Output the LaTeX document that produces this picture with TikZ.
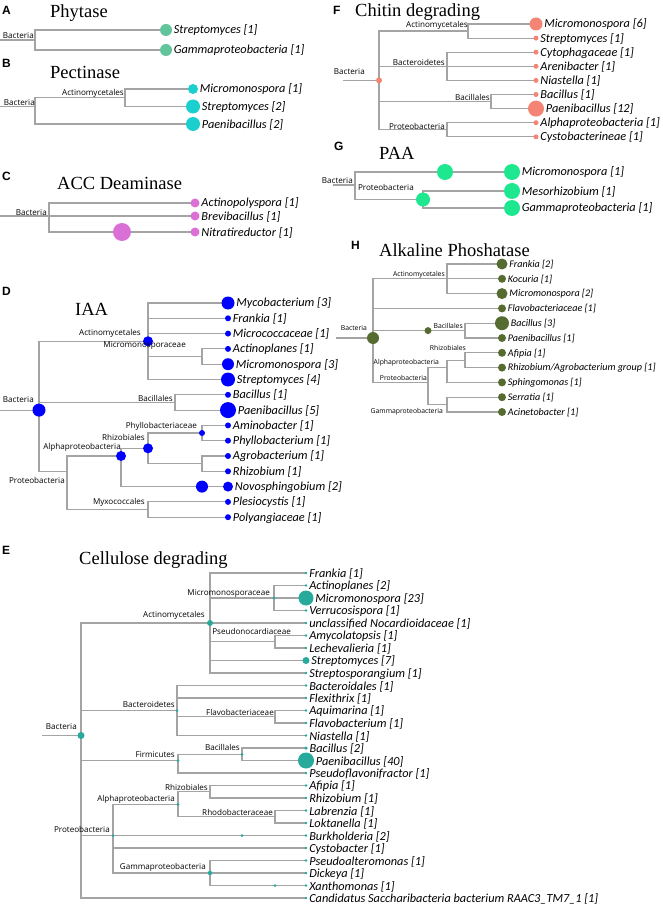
\documentclass[tikz,border=0pt]{standalone}
\usepackage{fontspec}
\setmainfont{Liberation Serif}
\newfontfamily\carl{Carlito}
\newfontfamily\osans{Open Sans}
\newfontfamily\arl{Liberation Sans}
\definecolor{brc}{HTML}{A4A4A4}
\definecolor{colA}{HTML}{62C49A}
\definecolor{colB}{HTML}{1CCFCF}
\definecolor{colC}{HTML}{DA70D6}
\definecolor{colD}{HTML}{0000FF}
\definecolor{colE}{HTML}{27A99B}
\definecolor{colF}{HTML}{F48474}
\definecolor{colG}{HTML}{1EE88F}
\definecolor{colH}{HTML}{556B2F}
\begin{document}
\begin{tikzpicture}[x=1pt,y=-1pt,
  br/.style={draw=brc, line width=1.1pt},
  lt/.style={anchor=west, inner sep=0pt, font=\carl\itshape\fontsize{12.3}{13}\selectfont},
  ltA/.style={lt},
  ltH/.style={lt, font=\carl\itshape\fontsize{10.1}{11}\selectfont},
  il/.style={anchor=east, inner sep=0pt, font=\osans\fontsize{8.1}{9}\selectfont},
  ilH/.style={anchor=east, inner sep=0pt, font=\osans\fontsize{6.8}{7}\selectfont},
  ttl/.style={anchor=west, inner sep=0pt, font=\fontsize{18.5}{20}\selectfont},
  pl/.style={anchor=west, inner sep=0pt, font=\arl\bfseries\fontsize{12}{13}\selectfont},
  dA/.style={circle, inner sep=0pt, minimum size=#1, fill=colA},
  dB/.style={circle, inner sep=0pt, minimum size=#1, fill=colB},
  dC/.style={circle, inner sep=0pt, minimum size=#1, fill=colC},
  dD/.style={circle, inner sep=0pt, minimum size=#1, fill=colD},
  dE/.style={circle, inner sep=0pt, minimum size=#1, fill=colE},
  dF/.style={circle, inner sep=0pt, minimum size=#1, fill=colF},
  dG/.style={circle, inner sep=0pt, minimum size=#1, fill=colG},
  dH/.style={circle, inner sep=0pt, minimum size=#1, fill=colH}]
\useasboundingbox (0,0) rectangle (662,909);

% ================= A Phytase
\node[pl] (pA) at (2,10) {A};
\node[ttl] (tA) at (50,13) {Phytase};
\coordinate (aR0) at (0,40); \coordinate (aR) at (35,40);
\coordinate (a1) at (166,30); \coordinate (a2) at (166,50);
\draw[br] (aR0) -- (aR) (aR) |- (a1) (aR) |- (a2);
\node[dA=12pt] (ac1) at (a1) {}; \node[dA=12pt] (ac2) at (a2) {};
\node[ltA] (at1) at ([xshift=1.5pt,yshift=-0.5pt]ac1.east) {Streptomyces [1]};
\node[ltA] (at2) at ([xshift=1.5pt,yshift=-0.5pt]ac2.east) {Gammaproteobacteria [1]};
\node[il] (la1) at (34,36) {Bacteria};

% ================= B Pectinase
\node[pl] (pB) at (2,63) {B};
\node[ttl] (tB) at (50,72) {Pectinase};
\coordinate (bR0) at (0,106.5); \coordinate (bR) at (35,106.5);
\coordinate (bAct) at (125,97.75);
\coordinate (b1) at (193,89); \coordinate (b2) at (193,106.5); \coordinate (b3) at (193,124);
\draw[br] (bR0) -- (bR) (bR) |- (bAct) (bAct) |- (b1) (bAct) |- (b2) (bR) |- (b3);
\node[dB=10pt] (bc1) at (b1) {}; \node[dB=14pt] (bc2) at (b2) {}; \node[dB=14pt] (bc3) at (b3) {};
\node[ltA] (bt1) at ([xshift=1.5pt,yshift=-0.5pt]bc1.east) {Micromonospora [1]};
\node[ltA] (bt2) at ([xshift=1.5pt,yshift=-0.5pt]bc2.east) {Streptomyces [2]};
\node[ltA] (bt3) at ([xshift=1.5pt,yshift=-0.5pt]bc3.east) {Paenibacillus [2]};
\node[il] (lb1) at (35,103) {Bacteria};
\node[il] (lb2) at (124,93) {Actinomycetales};

% ================= C ACC Deaminase
\node[pl] (pC) at (2,176) {C};
\node[ttl] (tC) at (57,183) {ACC Deaminase};
\coordinate (cR0) at (0,216); \coordinate (cR) at (49,216);
\coordinate (c1) at (195,203); \coordinate (c2) at (195,216); \coordinate (c3) at (195,232);
\coordinate (cM) at (122,232);
\draw[br] (cR0) -- (cR) (cR) |- (c1) (cR) -- (c2) (cR) |- (cM) (cM) -- (c3);
\node[dC=18pt] (ccM) at (cM) {};
\node[dC=9pt] (cc1) at (c1) {}; \node[dC=9pt] (cc2) at (c2) {}; \node[dC=9pt] (cc3) at (c3) {};
\node[ltA] (ct1) at ([xshift=1.5pt,yshift=-0.5pt]cc1.east) {Actinopolyspora [1]};
\node[ltA] (ct2) at ([xshift=1.5pt,yshift=-0.5pt]cc2.east) {Brevibacillus [1]};
\node[ltA] (ct3) at ([xshift=1.5pt,yshift=-0.5pt]cc3.east) {Nitratireductor [1]};
\node[il] (lc1) at (47,213) {Bacteria};

% ================= D IAA
\node[pl] (pD) at (2,291) {D};
\node[ttl] (tD) at (75,309) {IAA};
\def\Dl{1/303/13pt/Mycobacterium [3], 2/318.3/6pt/Frankia [1], 3/333.6/6pt/Micrococcaceae [1], 4/348.9/6pt/Actinoplanes [1], 5/364.2/12pt/Micromonospora [3], 6/379.5/14pt/Streptomyces [4], 7/394.8/6pt/Bacillus [1], 8/410.1/16pt/Paenibacillus [5], 9/425.4/6pt/Aminobacter [1], 10/440.7/6pt/Phyllobacterium [1], 11/456/6pt/Agrobacterium [1], 12/471.3/6pt/Rhizobium [1], 13/486.6/10pt/Novosphingobium [2], 14/501.9/6pt/Plesiocystis [1], 15/517.2/6pt/Polyangiaceae [1]}
\foreach \i/\y/\s/\t in \Dl { \coordinate (d\i) at (228,\y); }
\coordinate (dR0) at (0,410.1); \coordinate (dR) at (39,410.1);
\coordinate (dAct) at (148,341.25); \coordinate (dMic) at (202,356.5);
\coordinate (dBacl) at (175,402.5); \coordinate (dPro) at (67,471.3);
\coordinate (dAlp) at (121,456); \coordinate (dRhz) at (148,448.35);
\coordinate (dPhy) at (202,433); \coordinate (dUn) at (202,463.65);
\coordinate (dNov) at (202,486.6); \coordinate (dMyx) at (148,509.5);
\draw[br] (dR0) -- (dR) (dR) |- (dAct) (dAct) |- (d1) (dAct) |- (d2) (dAct) |- (d3)
  (dAct) |- (dMic) (dMic) |- (d4) (dMic) |- (d5) (dAct) |- (d6)
  (dR) |- (dBacl) (dBacl) |- (d7) (dBacl) |- (d8)
  (dR) |- (dPro) (dPro) |- (dAlp) (dAlp) |- (dRhz) (dRhz) |- (dPhy) (dPhy) |- (d9) (dPhy) |- (d10)
  (dRhz) |- (dUn) (dUn) |- (d11) (dUn) |- (d12) (dAlp) |- (dNov) (dNov) -- (d13)
  (dPro) |- (dMyx) (dMyx) |- (d14) (dMyx) |- (d15);
\node[dD=13pt] (dcR) at (dR) {};
\node[dD=10pt] (dcAct) at (dAct) {};
\node[dD=10pt] (dcAlp) at (dAlp) {};
\node[dD=10pt] (dcRhz) at (dRhz) {};
\node[dD=6pt] (dcPhy) at (dPhy) {};
\node[dD=12pt] (dcNov) at (dNov) {};
\foreach \i/\y/\s/\t in \Dl { \node[dD=\s] (dc\i) at (d\i) {}; \node[lt] (dt\i) at ([xshift=1.5pt,yshift=-0.5pt]dc\i.east) {\t}; }
\node[il] (ld1) at (141,333) {Actinomycetales};
\node[il] (ld2) at (186,345) {Micromonosporaceae};
\node[il] (ld3) at (34,400) {Bacteria};
\node[il] (ld4) at (173,398) {Bacillales};
\node[il] (ld5) at (197,426) {Phyllobacteriaceae};
\node[il] (ld6) at (145,437) {Rhizobiales};
\node[il] (ld7) at (121,447) {Alphaproteobacteria};
\node[il] (ld8) at (65,480) {Proteobacteria};
\node[il] (ld9) at (145,502) {Myxococcales};

% ================= E Cellulose
\node[pl] (pE) at (2,550) {E};
\node[ttl] (tE) at (79,560) {Cellulose degrading};
\def\El{0/573/2.8pt/Frankia [1], 1/585.5/2.8pt/Actinoplanes [2], 2/598/15pt/Micromonospora [23], 3/610.5/2.8pt/Verrucosispora [1], 4/623/2.8pt/unclassified Nocardioidaceae [1], 5/635.5/2.8pt/Amycolatopsis [1], 6/648/2.8pt/Lechevalieria [1], 7/660.5/7pt/Streptomyces [7], 8/673/2.8pt/Streptosporangium [1], 9/685.5/2.8pt/Bacteroidales [1], 10/698/2.8pt/Flexithrix [1], 11/710.5/2.8pt/Aquimarina [1], 12/723/2.8pt/Flavobacterium [1], 13/735.5/2.8pt/Niastella [1], 14/748/3.5pt/Bacillus [2], 15/760.5/16pt/Paenibacillus [40], 16/773/2.8pt/Pseudoflavonifractor [1], 17/785.5/2.8pt/Afipia [1], 18/798/2.8pt/Rhizobium [1], 19/810.5/2.8pt/Labrenzia [1], 20/823/2.8pt/Loktanella [1], 21/835.5/2.8pt/Burkholderia [2], 22/848/2.8pt/Cystobacter [1], 23/860.5/2.8pt/Pseudoalteromonas [1], 24/873/2.8pt/Dickeya [1], 25/885.5/2.8pt/Xanthomonas [1], 26/898/2.8pt/Candidatus Saccharibacteria bacterium RAAC3\_TM7\_1 [1]}
\foreach \i/\y/\s/\t in \El { \coordinate (e\i) at (306,\y); }
\coordinate (eR0) at (42,735.5); \coordinate (eR) at (81,735.5);
\coordinate (eAct) at (210,623); \coordinate (eMic) at (274,598);
\coordinate (ePse) at (275,641.75); \coordinate (eBct) at (177,710.5);
\coordinate (eFla) at (275,716.75); \coordinate (eFir) at (178,760.5);
\coordinate (eBacl) at (242,754.25); \coordinate (ePro) at (113,835.5);
\coordinate (eAlp) at (178,804.25); \coordinate (eRhz) at (210,791.75);
\coordinate (eRho) at (275,816.75); \coordinate (eBurk) at (242,835.5);
\coordinate (eGam) at (210,873); \coordinate (eXan) at (275,885.5);
\draw[br] (eR0) -- (eR) (eR) |- (eAct) (eAct) |- (e0) (eAct) |- (eMic) (eMic) |- (e1) (eMic) -- (e2) (eMic) |- (e3)
  (eAct) -- (e4) (eAct) |- (ePse) (ePse) |- (e5) (ePse) |- (e6) (eAct) |- (e7) (eAct) |- (e8)
  (eR) |- (eBct) (eBct) |- (e9) (eBct) |- (e10) (eBct) |- (eFla) (eFla) |- (e11) (eFla) |- (e12) (eBct) |- (e13)
  (eR) |- (eFir) (eFir) |- (eBacl) (eBacl) |- (e14) (eBacl) |- (e15) (eFir) |- (e16)
  (eR) |- (ePro) (ePro) |- (eAlp) (eAlp) |- (eRhz) (eRhz) |- (e17) (eRhz) |- (e18)
  (eAlp) |- (eRho) (eRho) |- (e19) (eRho) |- (e20) (ePro) -- (eBurk) (eBurk) -- (e21) (ePro) |- (e22)
  (ePro) |- (eGam) (eGam) |- (e23) (eGam) |- (e24) (eGam) |- (eXan) (eXan) -- (e25) (eR) |- (e26);
\node[dE=7pt] (ecR) at (eR) {};
\node[dE=6pt] (ecAct) at (eAct) {};
\node[dE=3pt] (ecMic) at (eMic) {};
\node[dE=3pt] (ecBct) at (eBct) {};
\node[dE=3pt] (ecFir) at (eFir) {};
\node[dE=3pt] (ecBacl) at (eBacl) {};
\node[dE=3pt] (ecPro) at (ePro) {};
\node[dE=3pt] (ecAlp) at (eAlp) {};
\node[dE=3pt] (ecBurk) at (eBurk) {};
\node[dE=4.5pt] (ecGam) at (eGam) {};
\node[dE=3pt] (ecXan) at (eXan) {};
\foreach \i/\y/\s/\t in \El { \node[dE=\s] (ec\i) at (e\i) {}; \node[lt] (et\i) at ([xshift=1.5pt,yshift=-1pt]ec\i.east) {\t}; }
\node[il] (le1) at (270,593) {Micromonosporaceae};
\node[il] (le2) at (205,615) {Actinomycetales};
\node[il] (le3) at (291,631) {Pseudonocardiaceae};
\node[il] (le4) at (175,704) {Bacteroidetes};
\node[il] (le5) at (274,712) {Flavobacteriaceae};
\node[il] (le6) at (77,727) {Bacteria};
\node[il] (le7) at (175,755) {Firmicutes};
\node[il] (le8) at (240,747) {Bacillales};
\node[il] (le9) at (208,787) {Rhizobiales};
\node[il] (le10) at (175,799) {Alphaproteobacteria};
\node[il] (le11) at (273,812) {Rhodobacteraceae};
\node[il] (le12) at (110,829) {Proteobacteria};
\node[il] (le13) at (206,867) {Gammaproteobacteria};

% ================= F Chitin
\node[pl] (pF) at (333,10) {F};
\node[ttl] (tF) at (355,12) {Chitin degrading};
\def\Fl{0/24/13pt/Micromonospora [6], 1/38.1/5pt/Streptomyces [1], 2/52.2/5pt/Cytophagaceae [1], 3/66.3/5pt/Arenibacter [1], 4/80.4/5pt/Niastella [1], 5/94.5/5pt/Bacillus [1], 6/108.6/16pt/Paenibacillus [12], 7/122.7/5pt/Alphaproteobacteria [1], 8/136.8/5pt/Cystobacterineae [1]}
\foreach \i/\y/\s/\t in \Fl { \coordinate (f\i) at (536,\y); }
\coordinate (fR0) at (343,80.4); \coordinate (fR) at (379,80.4);
\coordinate (fAct) at (468,31.05); \coordinate (fBct) at (447,66.3);
\coordinate (fBacl) at (491,101.55); \coordinate (fPro) at (447,129.75);
\draw[br] (fR0) -- (fR) (fR) |- (fAct) (fAct) |- (f0) (fAct) |- (f1)
  (fR) |- (fBct) (fBct) |- (f2) (fBct) -- (f3) (fBct) |- (f4)
  (fR) |- (fBacl) (fBacl) |- (f5) (fBacl) |- (f6)
  (fR) |- (fPro) (fPro) |- (f7) (fPro) |- (f8);
\node[dF=6pt] (fcR) at (fR) {};
\foreach \i/\y/\s/\t in \Fl { \node[dF=\s] (fc\i) at (f\i) {}; \node[lt] (ft\i) at ([xshift=1.5pt,yshift=-0.5pt]fc\i.east) {\t}; }
\node[il] (lf1) at (365,72) {Bacteria};
\node[il] (lf2) at (468,25) {Actinomycetales};
\node[il] (lf3) at (445,62) {Bacteroidetes};
\node[il] (lf4) at (490,97) {Bacillales};
\node[il] (lf5) at (445,126) {Proteobacteria};

% ================= G PAA
\node[pl] (pG) at (334,146) {G};
\node[ttl] (tG) at (379,153) {PAA};
\coordinate (gR0) at (333,185); \coordinate (gR) at (355,185);
\coordinate (gM) at (445,172); \coordinate (g1) at (512,172);
\coordinate (gPro) at (423,199.5); \coordinate (g2) at (512,191); \coordinate (g3) at (512,208);
\draw[br] (gR0) -- (gR) (gR) |- (gM) (gM) -- (g1) (gR) |- (gPro) (gPro) |- (g2) (gPro) |- (g3);
\node[dG=16pt] (gcM) at (gM) {};
\node[dG=14pt] (gcPro) at (gPro) {};
\node[dG=16pt] (gc1) at (g1) {}; \node[dG=16pt] (gc2) at (g2) {}; \node[dG=16pt] (gc3) at (g3) {};
\node[ltA] (gt1) at ([xshift=1.5pt,yshift=-0.5pt]gc1.east) {Micromonospora [1]};
\node[ltA] (gt2) at ([xshift=1.5pt,yshift=-0.5pt]gc2.east) {Mesorhizobium [1]};
\node[ltA] (gt3) at ([xshift=1.5pt,yshift=-0.5pt]gc3.east) {Gammaproteobacteria [1]};
\node[il] (lg1) at (353,181) {Bacteria};
\node[il] (lg2) at (414,187) {Proteobacteria};

% ================= H Alkaline Phosphatase
\node[pl] (pH) at (351,245) {H};
\node[ttl] (tH) at (379,250) {Alkaline Phoshatase};
\def\Hl{0/264/11pt/Frankia [2], 1/278.8/8pt/Kocuria [1], 2/293.6/11pt/Micromonospora [2], 3/308.4/8pt/Flavobacteriaceae [1], 4/323.2/14pt/Bacillus [3], 5/338/8pt/Paenibacillus [1], 6/352.8/8pt/Afipia [1], 7/367.6/8pt/{Rhizobium/Agrobacterium group [1]}, 8/382.4/8pt/Sphingomonas [1], 9/397.2/8pt/Serratia [1], 10/412/8pt/Acinetobacter [1]}
\foreach \i/\y/\s/\t in \Hl { \coordinate (h\i) at (502,\y); }
\coordinate (hR0) at (336,338); \coordinate (hR) at (373,338);
\coordinate (hAct) at (447,278.8); \coordinate (hBM) at (428,330.6); \coordinate (hBacl) at (465,330.6);
\coordinate (hPro) at (428,382.4); \coordinate (hAlp) at (447,367.6); \coordinate (hRhz) at (465,360.2);
\coordinate (hGam) at (447,404.6);
\draw[br] (hR0) -- (hR) (hR) |- (hAct) (hAct) |- (h0) (hAct) -- (h1) (hAct) |- (h2)
  (hR) |- (h3) (hR) |- (hBM) (hBM) -- (hBacl) (hBacl) |- (h4) (hBacl) |- (h5)
  (hR) |- (hPro) (hPro) |- (hAlp) (hAlp) |- (hRhz) (hRhz) |- (h6) (hRhz) |- (h7) (hAlp) |- (h8)
  (hPro) |- (hGam) (hGam) |- (h9) (hGam) |- (h10);
\node[dH=12pt] (hcR) at (hR) {};
\node[dH=7pt] (hcBM) at (hBM) {};
\foreach \i/\y/\s/\t in \Hl { \node[dH=\s] (hc\i) at (h\i) {}; \node[ltH] (ht\i) at ([xshift=1.5pt,yshift=-0.5pt]hc\i.east) {\t}; }
\node[ilH] (lh1) at (367,328) {Bacteria};
\node[ilH] (lh2) at (445,275) {Actinomycetales};
\node[ilH] (lh3) at (463,326) {Bacillales};
\node[ilH] (lh4) at (466,348) {Rhizobiales};
\node[ilH] (lh5) at (439,363) {Alphaproteobacteria};
\node[ilH] (lh6) at (427,378) {Proteobacteria};
\node[ilH] (lh7) at (443,412) {Gammaproteobacteria};
\end{tikzpicture}
\end{document}
